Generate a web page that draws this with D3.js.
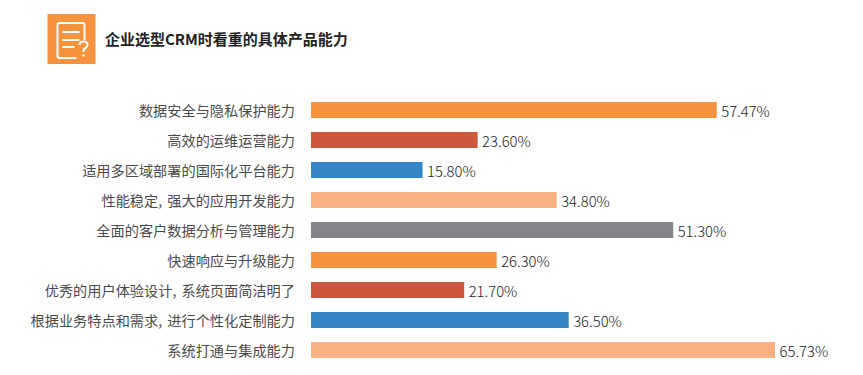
<!DOCTYPE html>
<html>
<head>
<meta charset="utf-8">
<script src="https://cdn.jsdelivr.net/npm/d3@7"></script>
<style>
  html, body { margin: 0; padding: 0; background: #fff; }
  svg { display: block; }
  text { font-family: "Noto Sans CJK SC", "Noto Sans", sans-serif; }
</style>
</head>
<body>
<script>
const categories = [
  "数据安全与隐私保护能力",
  "高效的运维运营能力",
  "适用多区域部署的国际化平台能力",
  "性能稳定, 强大的应用开发能力",
  "全面的客户数据分析与管理能力",
  "快速响应与升级能力",
  "优秀的用户体验设计, 系统页面简洁明了",
  "根据业务特点和需求, 进行个性化定制能力",
  "系统打通与集成能力"
]
const values = [57.47, 23.60, 15.80, 34.80, 51.30, 26.30, 21.70, 36.50, 65.73]
const palette = ["#f7933f", "#cd583d", "#3585c6", "#fbb083", "#858388"]
const title = "企业选型CRM时看重的具体产品能力"

const canvas = d3.select("body").append("svg")
                .attr("width", 863)
                .attr("height", 375)

const x = d3.scaleLinear()
            .domain([0, 100])
            .range([311, 1017])

const y = d3.scaleBand()
            .domain(categories)
            .range([95, 365])
            .paddingInner(14 / 30)
            .paddingOuter(7 / 30)

const axis = d3.axisLeft(y).tickSize(0).tickPadding(16)

const axisG = canvas.append("g")
                .attr("transform", "translate(311, 1)")
                .call(axis)
axisG.select(".domain").remove()
axisG.selectAll("text")
    .attr("font-size", 14.2)
    .attr("word-spacing", 2)
    .attr("fill", "#4a4a4a")
    .attr("font-family", null)

const rows = canvas.selectAll(".row")
                .data(values)
                .enter()
                .append("g")
                .attr("class", "row")

rows.append("rect")
    .attr("x", x(0))
    .attr("y", (d, i) => y(categories[i]))
    .attr("width", (d) => x(d) - x(0))
    .attr("height", y.bandwidth())
    .attr("fill", (d, i) => palette[i % palette.length])

rows.append("text")
    .attr("x", (d) => x(d) + 4.5)
    .attr("y", (d, i) => y(categories[i]) + y.bandwidth() / 2 + 2)
    .attr("dy", "0.36em")
    .attr("font-size", 14.8)
    .attr("font-weight", 300)
    .attr("fill", "#222")
    .text((d) => d.toFixed(2) + "%")

// 标题
canvas.append("text")
    .attr("x", 105)
    .attr("y", 44.5)
    .attr("font-size", 15)
    .attr("font-weight", 700)
    .attr("fill", "#222")
    .text(title)

// 图标
const icon = canvas.append("g").attr("transform", "translate(47.5, 14)")
icon.append("rect")
    .attr("width", 48)
    .attr("height", 50)
    .attr("fill", "#f7933f")
icon.append("path")
    .attr("d", "M37 26V11q0-2-2-2H12q-2 0-2 2v31q0 2 2 2h17")
    .attr("fill", "none")
    .attr("stroke", "#fff")
    .attr("stroke-width", 2)
icon.append("path")
    .attr("d", "M15 18h17M15 26h17M15 33h12")
    .attr("fill", "none")
    .attr("stroke", "#fff")
    .attr("stroke-width", 2)
icon.append("path")
    .attr("d", "M32 31q0-3.5 4-3.5t4 3.5q0 2-2 3t-2 3v1")
    .attr("fill", "#f7933f")
    .attr("stroke", "#fff")
    .attr("stroke-width", 2)
icon.append("circle")
    .attr("cx", 36)
    .attr("cy", 41.5)
    .attr("r", 1.2)
    .attr("fill", "#fff")
</script>
</body>
</html>
